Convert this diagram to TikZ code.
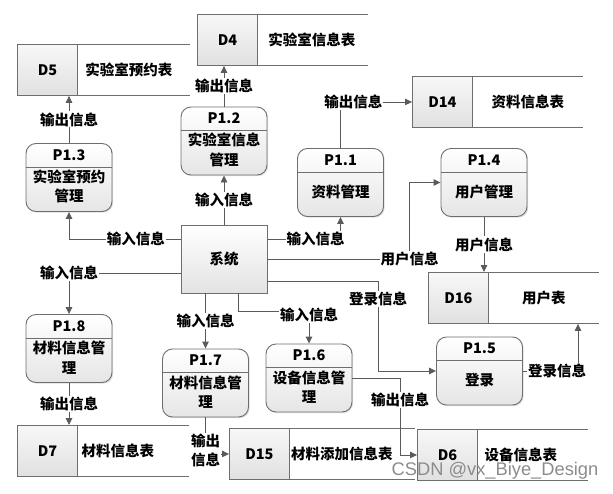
\documentclass[tikz,border=0pt]{standalone}
\usepackage{fontspec}
\setmainfont{Noto Sans CJK SC}
\newfontfamily\wmfont{Liberation Sans}
\usetikzlibrary{arrows.meta,shadows,calc}

\definecolor{edgegray}{HTML}{5A5A5A}
\definecolor{boxgray}{HTML}{6E6E6E}
\newcommand{\cn}{\fontsize{14.5}{19.5}\selectfont\bfseries}

\tikzset{
  procbox/.style={draw=boxgray,line width=0.9pt,rounded corners=10pt,
    minimum width=86pt,minimum height=68pt,top color=white,bottom color=black!10,
    drop shadow={opacity=0.25,shadow xshift=1.2pt,shadow yshift=-1.2pt}},
  sysbox/.style={draw=boxgray,line width=0.9pt,minimum width=86pt,minimum height=68pt,
    top color=white,bottom color=black!11,
    drop shadow={opacity=0.25,shadow xshift=1.2pt,shadow yshift=-1.2pt}},
  idbox/.style={draw=boxgray,line width=0.9pt,minimum width=60pt,minimum height=51pt,
    top color=black!3,bottom color=black!12,font=\cn},
  storeline/.style={draw=boxgray,line width=0.9pt},
  divline/.style={draw=boxgray,line width=0.8pt},
  txt/.style={font=\cn,align=center},
}

% process: name, centre, number, text
\newcommand{\proc}[4]{%
  \node[procbox] (#1) at (#2) {};
  \draw[divline] ([yshift=-24pt]#1.north west) -- ([yshift=-24pt]#1.north east);
  \node[txt] (#1id) at ([yshift=-12pt]#1.north) {#3};
  \node[txt] (#1tx) at ([yshift=-9pt]#1.center) {#4};
}
% data store: name, top left, length, id, text, text offset
\newcommand{\store}[6]{%
  \node[idbox,anchor=north west] (#1) at (#2) {#4};
  \draw[storeline] (#1.north west) -- ++(#3,0);
  \draw[storeline] (#1.south west) -- ++(#3,0);
  \node[txt] (#1tx) at ([xshift=#6pt]#1.east) {#5};
}

\begin{document}
\begin{tikzpicture}[x=1pt,y=-1pt,>={Triangle[length=7pt,width=6.5pt]},
    conn/.style={draw=edgegray,line width=0.9pt,->},
    lbl/.style={fill=white,inner sep=1pt,font=\cn}]
    \useasboundingbox (0,0) rectangle (613,493);

    % stores
    \store{d5}{17,44}{173}{D5}{实验室预约表}{51}
    \store{d4}{197,14}{171}{D4}{实验室信息表}{54}
    \store{d14}{412,76}{171}{D14}{资料信息表}{55}
    \store{d16}{428,272}{171}{D16}{用户表}{55}
    \store{d7}{17,425}{172}{D7}{材料信息表}{40}
    \store{d15}{229,428}{186}{D15}{材料添加信息表}{52}
    \store{d6}{417,429}{171}{D6}{设备信息表}{43}

    % processes
    \proc{p12}{224,141}{P1.2}{实验室信息\\管理}
    \proc{p13}{69,177.5}{P1.3}{实验室预约\\管理}
    \proc{p11}{340.5,182.5}{P1.1}{资料管理}
    \proc{p14}{484,182.5}{P1.4}{用户管理}
    \proc{p15}{479.5,371}{P1.5}{登录}
    \proc{p16}{309,378}{P1.6}{设备信息管\\理}
    \proc{p17}{205.5,383}{P1.7}{材料信息管\\理}
    \proc{p18}{69,348.5}{P1.8}{材料信息管\\理}

    \node[sysbox,font=\cn] (sys) at (224,259) {系统};

    % flows
    \draw[conn] (p13.north) -- (p13.north |- d5.south) node[lbl,midway] {输出信息};
    \draw[conn] (p12.north) -- (p12.north |- d4.south) node[lbl,midway] {输出信息};
    \draw[conn] (sys.north) -- (p12.south) node[lbl,midway] {输入信息};
    \draw[conn] ([yshift=20pt]sys.west) -| (p13.south) node[lbl,pos=0.2] {输入信息};
    \draw[conn] ([yshift=20pt]sys.east) -| (p11.south) node[lbl,pos=0.33] {输入信息};
    \draw[conn] (p11.north) |- (d14.west) node[lbl,pos=0.59] {输出信息};
    \draw[conn] (sys.east) -| ([xshift=-31pt]p14.west) node[lbl,pos=0.5] {用户信息} -- (p14.west);
    \draw[conn] (p14.south) -- (p14.south |- d16.north) node[lbl,midway] {用户信息};
    \draw[conn] ([yshift=-22pt]sys.east) -| ([xshift=-58pt]p15.west) node[lbl,pos=0.6] {登录信息} -- (p15.west);
    \draw[conn] (p15.east) -| ([xshift=150pt]d16.south west) node[lbl,pos=0.31] {登录信息};
    \draw[conn] (p17.north |- sys.south) -- (p17.north) node[lbl,midway] {输入信息};
    \draw[conn] ([xshift=14pt]sys.south) |- ([yshift=32pt]p16.north) node[lbl,yshift=-3pt] {输入信息} -- (p16.north);
    \draw[conn] (p17.south) |- (d15.west) node[lbl,pos=0.45,align=center] {输出\\信息};
    \draw[conn] (p16.east) -| ([xshift=-17pt]d6.west) node[lbl,pos=0.64] {输出信息} -- (d6.west);
    \draw[conn] ([yshift=-14pt]sys.west) -| (p18.north) node[lbl,pos=0.5] {输入信息};
    \draw[conn] (p18.south) -- (p18.south |- d7.north) node[lbl,midway] {输出信息};

    \node[font=\wmfont\fontsize{18.3}{18.3}\selectfont,text=black!45] (wm) at (495,471) {CSDN @vx\_Biye\_Design};
\end{tikzpicture}
\end{document}
